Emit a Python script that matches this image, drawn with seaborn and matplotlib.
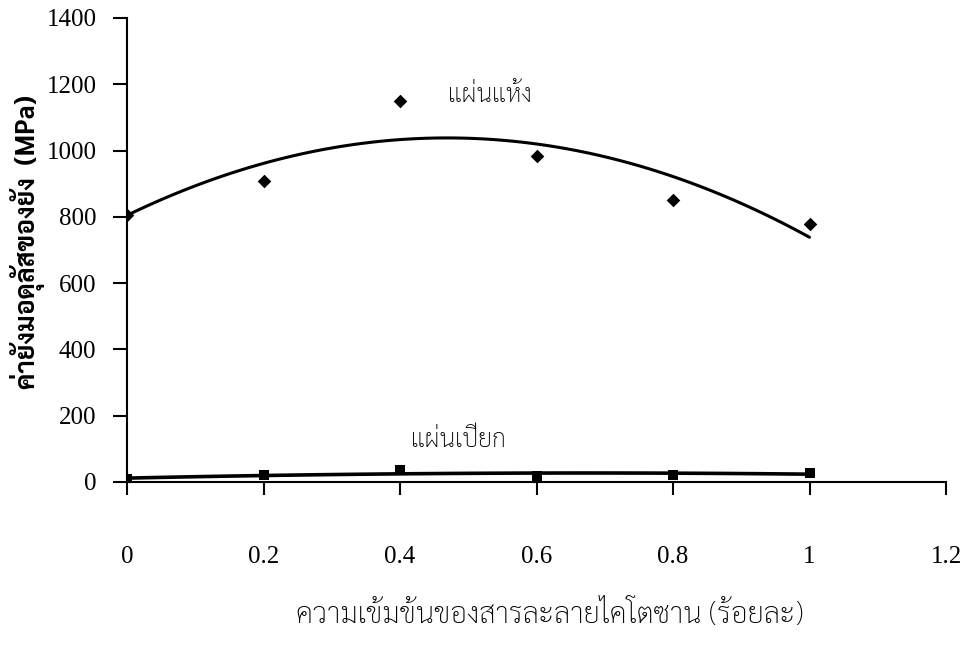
import matplotlib
matplotlib.use("Agg")
import matplotlib.pyplot as plt
from matplotlib import font_manager
import pandas as pd
import seaborn as sns

# Chitosan concentration (% w/v) and Young's modulus (MPa)
concentration = [0.0, 0.2, 0.4, 0.6, 0.8, 1.0]
modulus_dry = [805, 908, 1150, 985, 852, 779]
modulus_wet = [8, 22, 35, 18, 22, 28]

label_dry = "แผ่นแห้ง"
label_wet = "แผ่นเปียก"
x_title = "ความเข้มข้นของสารละลายไคโตซาน (ร้อยละ)"
y_title = "ค่ายังมอดุลัสของยัง  (MPa)"
x_ticks = [0, 0.2, 0.4, 0.6, 0.8, 1, 1.2]
x_ticklabels = ["0", "0.2", "0.4", "0.6", "0.8", "1", "1.2"]
y_ticks = [0, 200, 400, 600, 800, 1000, 1200, 1400]

sns.set_theme(style="white")

installed = {f.name for f in font_manager.fontManager.ttflist}
thai_font = next((n for n in ["Sarabun", "Noto Serif Thai", "Taviraj", "Pridi",
                              "Noto Sans Thai Looped", "Athiti"] if n in installed),
                 "DejaVu Sans")
num_font = "Liberation Serif" if "Liberation Serif" in installed else "DejaVu Serif"
plt.rcParams["font.family"] = [num_font, thai_font, "DejaVu Sans"]
thai = [thai_font, "DejaVu Sans"]

df = pd.DataFrame({"x": concentration, "dry": modulus_dry, "wet": modulus_wet})

fig = plt.figure(figsize=(9.68, 6.47), dpi=100)
ax = fig.add_axes([127 / 968, 1 - 482 / 647, (946 - 127) / 968, (482 - 18) / 647])

# quadratic trend lines through each data set
sns.regplot(data=df, x="x", y="dry", order=2, ci=None, ax=ax, marker="D",
            scatter_kws=dict(s=48, color="black", alpha=1, linewidths=0, zorder=4),
            line_kws=dict(color="black", lw=2.2, zorder=3))
sns.regplot(data=df, x="x", y="wet", order=2, ci=None, ax=ax, marker="s",
            scatter_kws=dict(s=60, color="black", alpha=1, linewidths=0, zorder=4),
            line_kws=dict(color="black", lw=2.6, zorder=3))

ax.set_xlim(0, 1.2)
ax.set_ylim(0, 1400)
ax.set_xticks(x_ticks)
ax.set_xticklabels(x_ticklabels)
ax.set_yticks(y_ticks)

for side in ["top", "right"]:
    ax.spines[side].set_visible(False)
for side in ["left", "bottom"]:
    ax.spines[side].set_color("black")
    ax.spines[side].set_linewidth(1.5)

ax.tick_params(axis="both", which="major", direction="out", color="black",
               width=1.5, labelsize=18, labelcolor="black")
ax.tick_params(axis="y", length=10, pad=12, left=True)
ax.tick_params(axis="x", length=9, pad=37, bottom=True)

ax.set_xlabel(x_title, family=thai, fontsize=21, fontweight="light", color="black")
ax.set_ylabel(y_title, family=thai, fontsize=19, fontweight="bold", color="black")
ax.xaxis.set_label_coords(0.516, -0.255)
ax.yaxis.set_label_coords(-0.10, 0.517)

ax.text(0.532, 1165, label_dry, family=thai, fontsize=18, fontweight="light",
        ha="center", va="center", color="black")
ax.text(0.485, 125, label_wet, family=thai, fontsize=18, fontweight="light",
        ha="center", va="center", color="black")

ax.set_facecolor("white")
fig.patch.set_facecolor("white")
fig.savefig("out.png", dpi=100, facecolor="white")
